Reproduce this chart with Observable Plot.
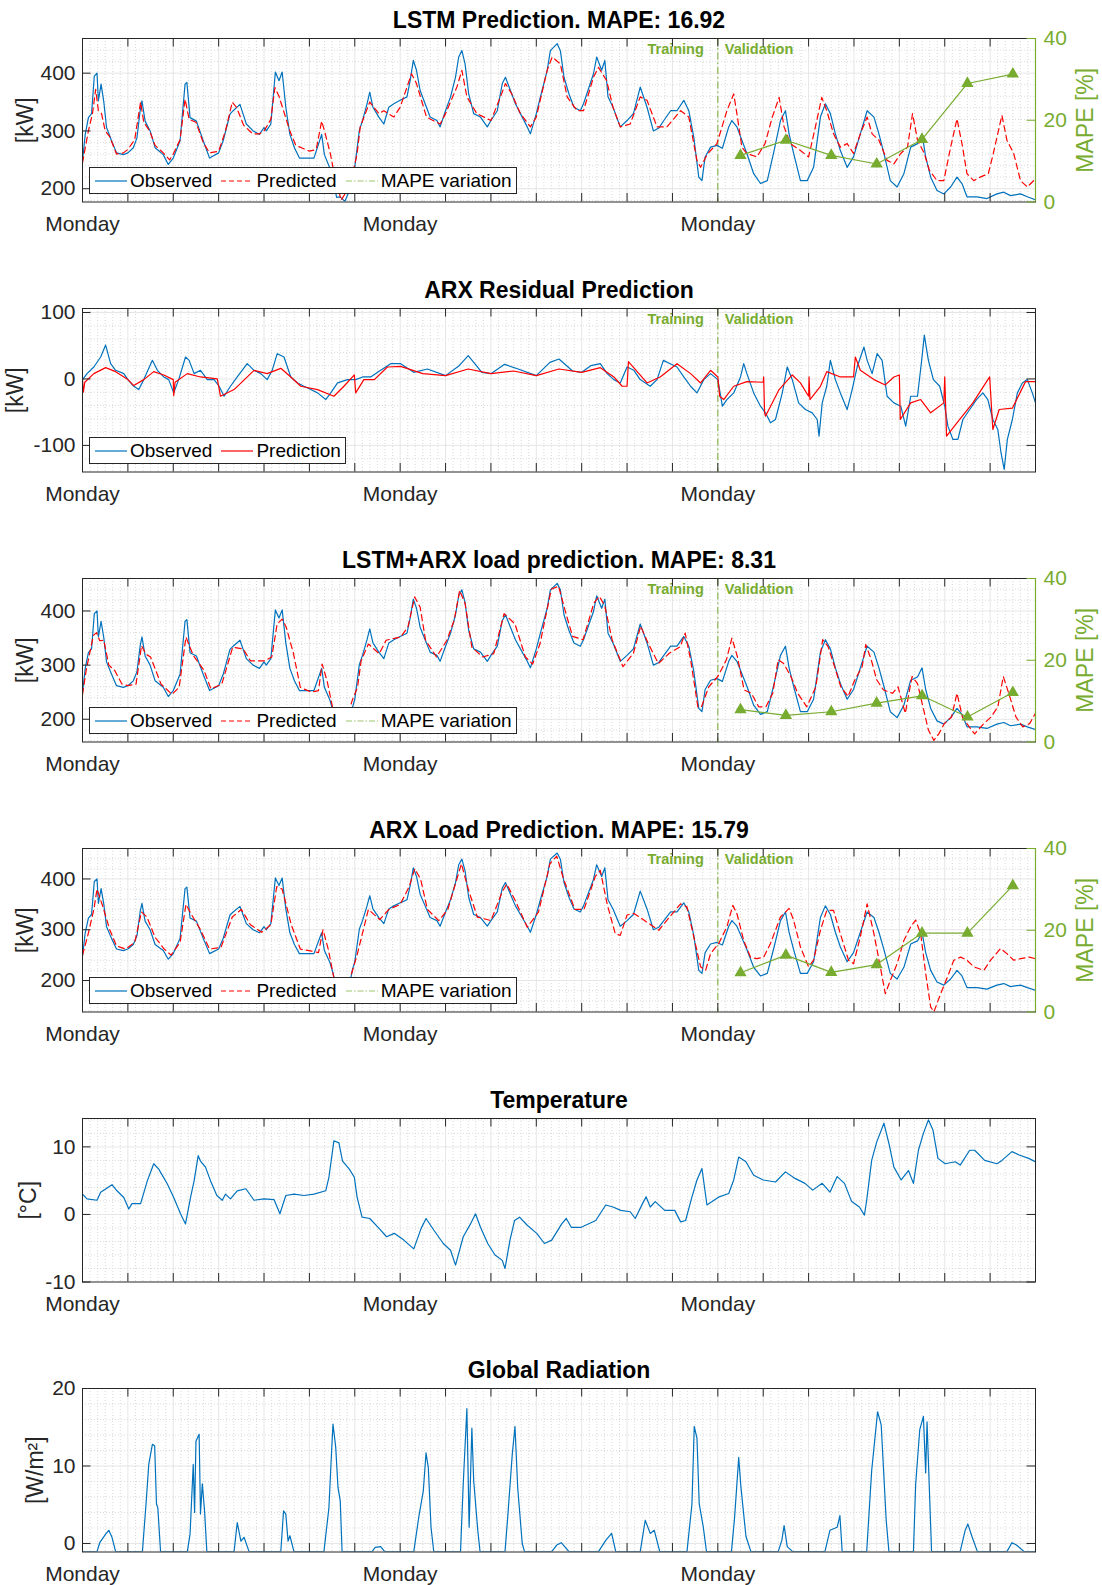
<!DOCTYPE html>
<html><head><meta charset="utf-8">
<script src="https://cdn.jsdelivr.net/npm/d3@7"></script>
<script src="https://cdn.jsdelivr.net/npm/@observablehq/plot@0.6"></script>
<style>
html,body{margin:0;padding:0;background:#fff}
body{width:1102px;height:1585px;overflow:hidden;font-family:"Liberation Sans",Arial,Helvetica,sans-serif}
#wrap{position:relative;width:1102px;height:1585px;overflow:hidden}
.panel{position:absolute;left:0}
.legend{position:absolute;background:#fff;border:1px solid #262626;display:flex;align-items:center;font-size:19px;color:#000;height:27px;box-sizing:border-box;padding:0 4px;white-space:nowrap}
.legend .item{display:flex;align-items:center}
.legend .item span{margin-left:2px}
.legend .item + .item{margin-left:8px}
</style></head>
<body><div id="wrap"></div>
<script>
// ---------------- DATA (days since first Monday, value) ----------------
const observedLoad = [
[0.00,248],[0.06,294],[0.13,323],[0.20,330],[0.26,395],[0.32,400],[0.35,352],[0.41,381],[0.47,350],[0.53,306],[0.64,283],[0.75,262],[0.90,259],[1.00,262],[1.12,271],[1.20,288],[1.27,335],[1.31,352],[1.38,317],[1.49,300],[1.60,271],[1.78,259],[1.89,242],[2.00,253],[2.15,283],[2.26,381],[2.30,384],[2.37,323],[2.51,317],[2.66,283],[2.80,253],[3.00,262],[3.10,283],[3.25,329],[3.32,335],[3.47,346],[3.54,329],[3.61,312],[3.76,300],[3.90,294],[4.00,306],[4.05,300],[4.15,312],[4.25,402],[4.33,387],[4.40,402],[4.48,341],[4.57,294],[4.67,271],[4.78,253],[4.90,253],[5.10,253],[5.27,294],[5.33,259],[5.45,236],[5.52,215],[5.60,185],[5.68,186],[5.78,178],[5.90,200],[5.95,222],
[6.00,237],[6.10,301],[6.17,318],[6.27,347],[6.33,367],[6.40,341],[6.53,324],[6.64,312],[6.75,341],[6.86,347],[7.00,353],[7.15,359],[7.22,387],[7.29,422],[7.36,405],[7.44,370],[7.55,347],[7.66,324],[7.81,318],[7.88,307],[8.00,335],[8.11,359],[8.22,393],[8.29,428],[8.36,439],[8.43,416],[8.51,364],[8.62,330],[8.77,324],[8.92,307],[9.00,318],[9.14,335],[9.25,382],[9.32,393],[9.43,370],[9.54,347],[9.65,330],[9.80,307],[9.87,295],[10.00,330],[10.09,359],[10.24,405],[10.31,439],[10.46,451],[10.53,439],[10.61,393],[10.72,364],[10.83,341],[10.97,335],[11.04,347],[11.26,399],[11.33,428],[11.44,405],[11.51,422],[11.58,359],[11.69,341],[11.85,307],[12.00,318],[12.14,330],[12.29,376],[12.44,341],[12.58,300],[12.70,305],[12.81,318],[12.96,335],[13.10,335],[13.25,353],[13.36,335],[13.47,289],[13.58,220],[13.65,214],[13.72,255],[13.84,272],[13.98,275],[14.10,270],[14.24,307],[14.31,318],[14.42,307],[14.53,284],[14.64,261],[14.79,226],[14.94,209],[15.09,214],[15.24,266],[15.38,318],[15.49,335],[15.57,295],[15.67,261],[15.82,214],[15.97,214],[16.11,237],[16.26,324],[16.37,347],[16.48,330],[16.59,295],[16.70,266],[16.85,237],[16.99,255],[17.14,295],[17.29,335],[17.44,324],[17.55,295],[17.66,261],[17.80,214],[17.95,203],[18.10,226],[18.25,272],[18.40,278],[18.50,295],[18.58,255],[18.69,220],[18.83,197],[18.98,191],[19.13,203],[19.27,220],[19.38,209],[19.49,186],[19.71,186],[19.93,183],[20.15,191],[20.30,194],[20.45,188],[20.67,191],[20.82,186],[21.00,181]
];
const lstmPredicted = [
[0.00,245],[0.13,300],[0.22,330],[0.29,372],[0.35,335],[0.42,330],[0.50,300],[0.60,290],[0.75,260],[0.90,262],[1.00,268],[1.15,285],[1.28,350],[1.35,315],[1.48,300],[1.60,275],[1.78,262],[1.92,250],[2.00,260],[2.15,285],[2.26,355],[2.35,320],[2.50,315],[2.66,280],[2.80,262],[3.00,265],[3.15,300],[3.30,350],[3.40,340],[3.55,310],[3.75,295],[3.90,295],[4.00,300],[4.15,320],[4.24,375],[4.33,360],[4.45,330],[4.57,300],[4.70,275],[4.85,270],[5.00,265],[5.15,268],[5.27,317],[5.35,295],[5.46,261],[5.55,225],[5.70,180],[5.85,200],[5.95,225],[6.05,260],[6.12,307],[6.33,350],[6.53,330],[6.64,335],[6.86,324],[7.00,341],[7.25,399],[7.36,382],[7.58,324],[7.88,312],[8.00,330],[8.25,376],[8.36,405],[8.47,359],[8.69,330],[9.00,318],[9.21,359],[9.32,382],[9.46,364],[9.65,330],[9.87,307],[10.00,324],[10.24,405],[10.35,428],[10.53,416],[10.68,359],[10.90,335],[11.04,335],[11.26,393],[11.37,410],[11.55,387],[11.69,341],[11.85,307],[12.07,312],[12.29,359],[12.44,353],[12.66,307],[12.88,307],[13.18,335],[13.36,324],[13.54,249],[13.62,237],[13.77,260],[13.98,278],[14.20,335],[14.35,364],[14.42,330],[14.53,272],[14.64,261],[14.86,255],[15.04,278],[15.20,324],[15.35,358],[15.46,307],[15.60,278],[15.82,266],[16.00,255],[16.15,307],[16.29,358],[16.40,335],[16.55,295],[16.70,272],[16.85,278],[16.99,261],[17.14,295],[17.29,324],[17.40,295],[17.55,284],[17.73,249],[17.88,243],[18.03,261],[18.18,272],[18.29,330],[18.40,284],[18.55,261],[18.66,232],[18.83,214],[18.98,214],[19.13,272],[19.27,321],[19.38,278],[19.49,226],[19.64,214],[19.78,220],[19.96,226],[20.07,261],[20.26,327],[20.37,284],[20.52,261],[20.67,214],[20.82,203],[20.96,214]
];
const hybridPredicted = [
[0.00,246],[0.08,290],[0.24,355],[0.31,360],[0.38,345],[0.47,346],[0.58,300],[0.71,290],[0.87,265],[1.00,262],[1.18,265],[1.30,336],[1.40,320],[1.50,315],[1.73,265],[1.97,246],[2.13,259],[2.28,352],[2.36,335],[2.44,318],[2.68,290],[2.83,256],[3.07,265],[3.31,333],[3.54,330],[3.70,308],[4.02,308],[4.17,315],[4.29,376],[4.40,385],[4.49,370],[4.65,321],[4.80,259],[5.04,250],[5.20,253],[5.28,302],[5.39,271],[5.51,222],[5.60,190],[5.75,180],[5.94,234],[6.06,259],[6.14,308],[6.30,339],[6.54,321],[6.69,346],[7.01,352],[7.17,370],[7.32,426],[7.44,407],[7.56,346],[7.80,315],[8.03,346],[8.19,383],[8.31,438],[8.43,414],[8.58,333],[8.82,315],[9.06,321],[9.29,395],[9.53,376],[9.76,315],[9.92,302],[10.08,339],[10.33,440],[10.49,446],[10.65,396],[10.80,353],[11.03,347],[11.27,415],[11.39,427],[11.51,409],[11.67,347],[11.91,297],[12.14,322],[12.30,372],[12.46,341],[12.69,303],[12.93,322],[13.17,334],[13.28,359],[13.40,310],[13.56,223],[13.64,223],[13.80,260],[14.00,279],[14.19,310],[14.31,350],[14.43,316],[14.58,254],[14.74,248],[14.90,223],[15.06,223],[15.21,248],[15.33,310],[15.45,303],[15.61,279],[15.76,248],[15.96,223],[16.16,260],[16.31,347],[16.43,334],[16.55,303],[16.71,260],[16.87,242],[17.02,273],[17.18,297],[17.26,338],[17.38,310],[17.50,273],[17.65,254],[17.85,248],[17.97,260],[18.13,211],[18.28,279],[18.40,266],[18.52,223],[18.64,180],[18.76,161],[18.87,173],[18.99,192],[19.15,204],[19.27,248],[19.39,204],[19.54,186],[19.66,173],[19.86,192],[20.02,204],[20.17,223],[20.29,279],[20.41,248],[20.57,204],[20.72,186],[20.87,192],[21.00,211]
];
const arxPredicted = [
[0.00,250],[0.12,290],[0.25,340],[0.32,380],[0.45,345],[0.60,300],[0.75,268],[0.95,262],[1.15,275],[1.30,335],[1.42,325],[1.60,285],[1.80,262],[1.95,250],[2.15,275],[2.28,350],[2.40,330],[2.60,300],[2.80,262],[3.05,265],[3.30,325],[3.50,340],[3.70,310],[3.95,295],[4.15,310],[4.28,385],[4.40,380],[4.60,310],[4.80,262],[5.05,258],[5.20,255],[5.30,300],[5.42,260],[5.55,200],[5.70,180],[5.90,205],[6.05,250],[6.30,340],[6.55,320],[6.75,340],[7.00,350],[7.20,385],[7.32,420],[7.45,400],[7.60,340],[7.85,318],[8.05,340],[8.25,400],[8.35,430],[8.50,380],[8.70,325],[9.00,318],[9.25,375],[9.35,390],[9.55,355],[9.80,305],[10.05,335],[10.30,430],[10.45,445],[10.60,400],[10.85,340],[11.05,340],[11.30,405],[11.41,417],[11.56,351],[11.74,292],[11.85,289],[12.00,329],[12.15,332],[12.37,319],[12.70,299],[12.88,319],[13.18,351],[13.32,345],[13.47,286],[13.62,227],[13.73,220],[13.84,253],[14.02,273],[14.20,306],[14.33,348],[14.42,332],[14.57,279],[14.72,246],[14.86,243],[15.01,246],[15.16,273],[15.38,325],[15.57,342],[15.67,319],[15.82,266],[16.00,227],[16.11,240],[16.26,299],[16.40,338],[16.55,338],[16.70,292],[16.88,240],[16.99,233],[17.14,286],[17.29,351],[17.44,292],[17.58,227],[17.69,174],[17.80,200],[17.95,233],[18.10,279],[18.25,306],[18.36,319],[18.47,292],[18.58,214],[18.69,148],[18.76,138],[18.91,174],[19.06,207],[19.20,240],[19.35,246],[19.49,240],[19.64,227],[19.86,220],[20.01,240],[20.23,263],[20.37,253],[20.52,240],[20.67,243],[20.86,246],[21.00,243]
];
const residualObserved = [
[0.00,-1],[0.10,8],[0.25,18],[0.40,33],[0.51,51],[0.62,23],[0.73,13],[0.91,8],[1.00,-1],[1.13,-11],[1.24,-16],[1.35,-1],[1.54,28],[1.65,13],[1.79,3],[1.90,-1],[2.01,-21],[2.12,-1],[2.27,33],[2.35,28],[2.46,8],[2.60,13],[2.75,-1],[2.90,-1],[3.01,-11],[3.12,-26],[3.26,-11],[3.41,3],[3.63,23],[3.78,13],[3.93,8],[4.07,-1],[4.18,13],[4.29,38],[4.44,33],[4.59,3],[4.74,-6],[4.88,-11],[5.03,-16],[5.18,-21],[5.36,-31],[5.47,-21],[5.62,-6],[5.84,-1],[6.02,-1],[6.17,3],[6.35,3],[6.57,13],[6.79,23],[7.01,23],[7.30,10],[7.60,15],[8.00,5],[8.30,20],[8.50,35],[8.80,10],[9.00,8],[9.30,22],[9.60,15],[10.00,5],[10.30,25],[10.50,30],[10.80,12],[11.00,10],[11.20,20],[11.41,23],[11.56,8],[11.71,-1],[11.85,-6],[12.00,18],[12.15,13],[12.29,-1],[12.51,-11],[12.66,-1],[12.80,28],[12.95,23],[13.10,18],[13.25,3],[13.40,-11],[13.54,-21],[13.69,-1],[13.84,8],[14.00,-1],[14.10,-41],[14.20,-31],[14.35,-21],[14.50,3],[14.57,23],[14.64,8],[14.79,-21],[14.94,-41],[15.05,-51],[15.16,-66],[15.27,-61],[15.42,-21],[15.53,18],[15.64,-1],[15.78,-36],[15.93,-46],[16.08,-51],[16.19,-61],[16.23,-86],[16.30,-36],[16.40,-11],[16.48,28],[16.59,-1],[16.70,-21],[16.85,-46],[16.96,-16],[17.07,18],[17.22,48],[17.29,28],[17.40,8],[17.51,38],[17.62,28],[17.73,-26],[17.88,-36],[18.03,-41],[18.14,-71],[18.25,-26],[18.40,-26],[18.50,33],[18.55,66],[18.64,28],[18.75,-1],[18.89,-11],[19.00,-41],[19.07,-71],[19.18,-91],[19.29,-91],[19.40,-61],[19.55,-46],[19.70,-31],[19.84,-21],[19.95,-31],[20.06,-61],[20.17,-76],[20.24,-111],[20.31,-136],[20.38,-91],[20.49,-61],[20.60,-21],[20.71,-6],[20.82,-1],[20.93,-21],[21.00,-36]
];
const residualPredicted = [
[0.00,-1],[0.02,-20],[0.05,-5],[0.25,8],[0.51,17],[0.73,11],[1.00,-1],[1.13,-10],[1.35,-1],[1.57,11],[1.79,6],[2.00,-1],[2.01,-25],[2.04,-5],[2.31,8],[2.60,3],[2.97,0],[3.04,-26],[3.34,-16],[3.78,13],[4.07,8],[4.37,16],[4.59,3],[4.81,-11],[5.18,-16],[5.54,-26],[5.76,-11],[5.99,6],[6.02,-21],[6.20,-1],[6.43,-1],[6.72,18],[7.01,19],[7.50,8],[8.00,5],[8.50,15],[9.00,8],[9.50,12],[10.00,5],[10.50,15],[11.00,10],[11.41,17],[11.71,3],[11.89,-11],[12.00,-11],[12.03,26],[12.44,-6],[12.73,3],[13.10,23],[13.40,8],[13.62,-6],[13.84,13],[14.00,3],[14.04,-26],[14.13,-31],[14.35,-11],[14.64,-4],[15.00,-5],[15.01,3],[15.03,-51],[15.05,-56],[15.35,-16],[15.64,6],[15.82,-6],[16.00,-26],[16.01,3],[16.03,-31],[16.26,-11],[16.40,11],[16.70,3],[16.99,3],[17.03,33],[17.14,13],[17.44,-1],[17.69,-9],[17.88,3],[18.00,6],[18.02,-61],[18.25,-36],[18.47,-31],[18.69,-51],[18.98,-36],[19.00,3],[19.04,-86],[19.33,-61],[19.62,-36],[19.95,-1],[19.99,3],[20.06,-76],[20.20,-46],[20.49,-44],[20.78,-4],[21.00,-4]
];
const temperature = [
[0.00,3.0],[0.10,2.3],[0.32,2.1],[0.40,3.3],[0.65,4.4],[0.76,3.5],[0.91,2.5],[1.02,0.8],[1.09,1.6],[1.28,1.6],[1.43,5.0],[1.57,7.5],[1.68,6.7],[1.87,4.5],[2.01,2.5],[2.16,0.1],[2.27,-1.4],[2.38,2.5],[2.46,5.0],[2.55,8.7],[2.60,7.9],[2.71,7.0],[2.82,5.0],[2.96,2.8],[3.08,2.1],[3.15,3.0],[3.26,2.3],[3.41,3.5],[3.60,3.8],[3.78,2.1],[4.00,2.3],[4.22,2.2],[4.35,0.1],[4.48,2.8],[4.66,3.0],[4.88,2.8],[5.10,3.0],[5.36,3.5],[5.43,5.5],[5.54,10.9],[5.65,10.6],[5.73,7.9],[5.88,6.7],[5.99,5.5],[6.05,2.6],[6.16,-0.4],[6.33,-0.6],[6.54,-2.1],[6.70,-3.3],[6.87,-2.8],[7.08,-3.8],[7.30,-5.1],[7.46,-2.1],[7.57,-0.6],[7.74,-2.3],[7.95,-4.3],[8.11,-5.3],[8.22,-7.5],[8.39,-3.3],[8.55,-1.4],[8.66,0.1],[8.77,-1.9],[8.93,-4.3],[9.09,-6.0],[9.25,-6.8],[9.31,-8.0],[9.42,-3.8],[9.52,-0.9],[9.63,-0.4],[9.80,-1.6],[10.01,-2.8],[10.18,-4.3],[10.34,-3.8],[10.56,-1.4],[10.66,-0.6],[10.77,-1.9],[10.99,-1.9],[11.31,-0.9],[11.53,1.4],[11.69,1.1],[11.86,0.6],[12.07,0.4],[12.18,-0.6],[12.34,1.6],[12.42,2.6],[12.51,1.1],[12.62,1.9],[12.83,0.6],[13.05,0.6],[13.18,-1.1],[13.29,-0.9],[13.43,2.6],[13.54,5.1],[13.65,6.8],[13.76,1.4],[14.03,2.6],[14.24,3.1],[14.35,5.1],[14.46,8.5],[14.62,7.8],[14.79,5.8],[15.00,5.1],[15.27,4.8],[15.49,6.3],[15.71,5.3],[15.92,4.6],[16.09,3.6],[16.30,4.6],[16.47,3.3],[16.63,5.6],[16.79,4.6],[16.95,1.9],[17.12,1.1],[17.23,-0.1],[17.28,2.1],[17.39,8.0],[17.50,10.7],[17.66,13.5],[17.77,10.5],[17.88,7.0],[18.04,5.1],[18.20,6.5],[18.31,4.6],[18.42,9.5],[18.53,12.0],[18.64,14.0],[18.74,12.5],[18.85,8.3],[19.01,7.5],[19.23,7.8],[19.34,7.3],[19.55,9.5],[19.66,9.5],[19.88,8.0],[20.15,7.5],[20.26,8.0],[20.48,9.3],[20.64,8.8],[20.85,8.3],[21.00,7.8]
];
const radiation = [
[0.00,-1.05],[0.32,-1.05],[0.38,0.1],[0.51,1.2],[0.58,1.7],[0.65,0.8],[0.73,-1.05],
[1.32,-1.05],[1.40,5.1],[1.46,10.2],[1.54,12.8],[1.59,12.6],[1.63,5.1],[1.66,4.6],[1.72,-1.05],
[2.31,-1.05],[2.37,1.2],[2.44,10.2],[2.47,4.0],[2.50,13.2],[2.57,14.1],[2.60,3.8],[2.64,7.7],[2.69,4.2],[2.74,-1.05],
[3.34,-1.05],[3.41,2.7],[3.49,0.3],[3.56,0.8],[3.67,-1.05],
[4.37,-1.05],[4.43,4.2],[4.48,3.8],[4.53,0.3],[4.57,1.0],[4.66,-1.05],
[5.32,-1.05],[5.43,4.6],[5.49,12.0],[5.52,15.4],[5.58,12.4],[5.63,7.2],[5.68,5.5],[5.72,-1.05],
[6.38,-1.05],[6.45,-0.5],[6.57,-0.4],[6.66,-1.05],
[7.30,-1.05],[7.41,3.4],[7.51,6.8],[7.57,11.7],[7.62,9.8],[7.68,2.1],[7.74,-1.05],
[8.33,-1.05],[8.39,7.7],[8.47,17.4],[8.52,2.1],[8.58,14.9],[8.62,8.1],[8.71,1.7],[8.76,-1.05],
[9.31,-1.05],[9.37,3.4],[9.47,11.5],[9.53,15.1],[9.59,7.2],[9.69,0.0],[9.74,-1.05],
[10.34,-1.05],[10.45,-0.2],[10.55,0.1],[10.72,-1.05],
[11.37,-1.05],[11.53,0.4],[11.66,1.3],[11.75,-1.05],
[12.29,-1.05],[12.40,3.0],[12.51,1.3],[12.60,1.7],[12.72,-1.05],
[13.32,-1.05],[13.43,5.1],[13.48,15.1],[13.54,13.6],[13.59,5.1],[13.68,2.1],[13.75,-1.05],
[14.30,-1.05],[14.37,3.4],[14.46,11.1],[14.51,7.2],[14.62,0.9],[14.73,-1.05],
[15.33,-1.05],[15.41,0.4],[15.46,2.3],[15.53,-0.4],[15.65,-1.05],
[16.36,-1.05],[16.47,1.7],[16.63,2.1],[16.69,3.6],[16.74,-1.05],
[17.28,-1.05],[17.39,9.4],[17.52,17.0],[17.60,15.3],[17.71,3.0],[17.77,-1.05],
[18.31,-1.05],[18.36,7.7],[18.45,14.7],[18.53,16.4],[18.58,9.1],[18.61,15.7],[18.66,7.2],[18.71,-1.05],
[19.34,-1.05],[19.45,1.7],[19.51,2.5],[19.60,0.9],[19.72,-1.05],
[20.37,-1.05],[20.48,0.1],[20.58,-0.2],[20.75,-1.05],[21.00,-1.05]
];
const mapeDays = [14.5, 15.5, 16.5, 17.5, 18.5, 19.5, 20.5];
const lstmMape = [11.4, 15.1, 11.4, 9.3, 15.3, 29.0, 31.3];
const hybridMape = [7.9, 6.5, 7.4, 9.5, 11.3, 6.1, 12.1];
const arxMape = [9.6, 13.9, 9.7, 11.6, 19.3, 19.3, 30.9];
const mapeTicks = [0, 20, 40];
const splitDay = 14;
const mondayDays = [0, 7, 14];
const mondayLabel = "Monday";

// ---------------- LAYOUT / STYLE ----------------
const W = 1102, PITCH = 270, FT = 38, FH = 163.5, FL = 82, FR = 1035, FW = FR - FL, TL = 8.5;
const BLUE = "#0072BD", RED = "#FF0000", GREEN = "#77AC30", AX = "#262626";
const FONT = '"Liberation Sans", Arial, Helvetica, sans-serif';
const dayTicks = d3.range(0, 22);
const minorDays = d3.range(0, 21 * 6 + 1).map(k => k / 6).filter(d => Math.abs(d - Math.round(d)) > 1e-6);

function panel(cfg) {
  const {index, title, domain, yTicks, yMinorStep, yLabel, yLabelDx, lines, mape, split} = cfg;
  const [lo, hi] = domain;
  const toLeft = m => lo + (m / 40) * (hi - lo);
  const fromLeft = v => ((v - lo) / (hi - lo)) * 40;
  const yMinor = d3.range(Math.ceil(lo / yMinorStep - 1e-9), Math.floor(hi / yMinorStep + 1e-9) + 1)
    .map(k => +(k * yMinorStep).toFixed(6)).filter(v => !yTicks.includes(v) && v > lo && v < hi);
  const majorY = yTicks.filter(v => v > lo && v < hi);
  const marks = [
    Plot.ruleX(minorDays, {x: d => d, stroke: "#d0d0d0", strokeWidth: 0.8, strokeDasharray: "1,2"}),
    Plot.ruleY(yMinor, {y: d => d, stroke: "#d0d0d0", strokeWidth: 0.8, strokeDasharray: "1,2"}),
    Plot.ruleX(dayTicks.slice(1, -1), {x: d => d, stroke: "#e0e0e0", strokeWidth: 0.8}),
    Plot.ruleY(majorY, {y: d => d, stroke: "#e0e0e0", strokeWidth: 0.8})
  ];
  if (split) {
    marks.push(Plot.ruleX([splitDay], {x: d => d, stroke: GREEN, strokeWidth: 1, strokeDasharray: "7,3,1.5,3"}));
  }
  for (const s of lines) {
    marks.push(Plot.line(s.data, {x: d => d[0], y: d => d[1], stroke: s.color, strokeWidth: s.width || 1.2, strokeDasharray: s.dash, clip: true}));
  }
  if (mape) {
    marks.push(Plot.line(mape, {x: (d, i) => mapeDays[i], y: d => toLeft(d), stroke: GREEN, strokeWidth: 1.2}));
    marks.push(Plot.dot(mape, {x: (d, i) => mapeDays[i], y: d => toLeft(d), symbol: "triangle", fill: GREEN, stroke: GREEN, r: 3.6}));
  }
  if (split) {
    marks.push(Plot.text([splitDay], {x: d => d, text: () => "Training", frameAnchor: "top", lineAnchor: "middle", dy: 10.5, dx: -14, textAnchor: "end", fill: GREEN, fontWeight: "bold", fontSize: 14.5}));
    marks.push(Plot.text([splitDay], {x: d => d, text: () => "Validation", frameAnchor: "top", lineAnchor: "middle", dy: 10.5, dx: 7, textAnchor: "start", fill: GREEN, fontWeight: "bold", fontSize: 14.5}));
  }
  marks.push(Plot.frame({stroke: AX, strokeWidth: 1}));
  // inward ticks
  marks.push(Plot.tickX(dayTicks, {x: d => d, stroke: AX, insetTop: FH - TL}));
  marks.push(Plot.tickX(dayTicks, {x: d => d, stroke: AX, insetBottom: FH - TL}));
  marks.push(Plot.tickY(yTicks, {y: d => d, stroke: AX, insetRight: FW - TL}));
  if (mape) {
    marks.push(Plot.ruleX([21], {x: d => d, stroke: GREEN, strokeWidth: 1.2}));
    marks.push(Plot.tickY(mapeTicks.map(toLeft), {y: d => d, stroke: GREEN, insetLeft: FW - TL}));
    marks.push(Plot.axisY({anchor: "right", ticks: mapeTicks.map(toLeft), tickFormat: v => String(Math.round(fromLeft(v))), tickSize: 0, tickPadding: 8, fill: GREEN, fontSize: 21, label: null}));
    marks.push(Plot.text(["MAPE [%]"], {text: d => d, frameAnchor: "right", dx: 50, rotate: -90, textAnchor: "middle", lineAnchor: "middle", fill: GREEN, fontSize: 23}));
  } else {
    marks.push(Plot.tickY(yTicks, {y: d => d, stroke: AX, insetLeft: FW - TL}));
  }
  marks.push(Plot.axisX({ticks: mondayDays, tickFormat: () => mondayLabel, tickSize: 0, tickPadding: 14, fill: AX, fontSize: 21, label: null}));
  marks.push(Plot.axisY({anchor: "left", ticks: yTicks, tickFormat: d => String(d), tickSize: 0, tickPadding: 7, fill: AX, fontSize: 21, label: null}));
  marks.push(Plot.text([yLabel], {text: d => d, frameAnchor: "left", dx: yLabelDx, rotate: -90, textAnchor: "middle", lineAnchor: "middle", fill: AX, fontSize: 23}));
  marks.push(Plot.text([title], {text: d => d, frameAnchor: "top", lineAnchor: "middle", dy: -18, fill: "#000", fontWeight: "bold", fontSize: 23}));

  const svg = Plot.plot({
    width: W, height: PITCH,
    marginTop: FT, marginBottom: PITCH - FT - FH, marginLeft: FL, marginRight: W - FR,
    x: {domain: [0, 21]},
    y: {domain: [lo, hi]},
    style: {fontFamily: FONT, fontSize: "21px", color: AX, background: "transparent", overflow: "visible"},
    marks
  });
  svg.classList.add("panel");
  svg.style.top = (index * PITCH) + "px";
  return svg;
}

function legend(index, items) {
  const div = document.createElement("div");
  div.className = "legend";
  div.style.left = "89px";
  div.style.top = (index * PITCH + FT + FH - 7.5 - 27) + "px";
  for (const it of items) {
    const item = document.createElement("div");
    item.className = "item";
    item.innerHTML = `<svg width="34" height="10"><line x1="1" x2="33" y1="5" y2="5" stroke="${it.color}" stroke-width="1.2" ${it.dash ? `stroke-dasharray="${it.dash}"` : ""} ${it.opacity ? `stroke-opacity="${it.opacity}"` : ""}/></svg><span>${it.label}</span>`;
    div.appendChild(item);
  }
  return div;
}

const wrap = document.getElementById("wrap");
const loadLegend = [
  {label: "Observed", color: BLUE},
  {label: "Predicted", color: RED, dash: "5,3"},
  {label: "MAPE variation", color: GREEN, dash: "6,2,1.5,2", opacity: 0.7}
];

const panels = [
  {index: 0, title: "LSTM Prediction. MAPE: 16.92", domain: [177, 460], yTicks: [200, 300, 400], yMinorStep: 20, yLabel: "[kW]", yLabelDx: -57,
   lines: [{data: observedLoad, color: BLUE}, {data: lstmPredicted, color: RED, dash: "6,4"}], mape: lstmMape, split: true},
  {index: 1, title: "ARX Residual Prediction", domain: [-140, 106], yTicks: [-100, 0, 100], yMinorStep: 20, yLabel: "[kW]", yLabelDx: -67,
   lines: [{data: residualObserved, color: BLUE}, {data: residualPredicted, color: RED}], mape: null, split: true},
  {index: 2, title: "LSTM+ARX load prediction. MAPE: 8.31", domain: [158, 460], yTicks: [200, 300, 400], yMinorStep: 20, yLabel: "[kW]", yLabelDx: -57,
   lines: [{data: observedLoad, color: BLUE}, {data: hybridPredicted, color: RED, dash: "6,4"}], mape: hybridMape, split: true},
  {index: 3, title: "ARX Load Prediction. MAPE: 15.79", domain: [138, 460], yTicks: [200, 300, 400], yMinorStep: 20, yLabel: "[kW]", yLabelDx: -57,
   lines: [{data: observedLoad, color: BLUE}, {data: arxPredicted, color: RED, dash: "6,4"}], mape: arxMape, split: true},
  {index: 4, title: "Temperature", domain: [-10, 14.2], yTicks: [-10, 0, 10], yMinorStep: 2, yLabel: "[°C]", yLabelDx: -54,
   lines: [{data: temperature, color: BLUE}], mape: null, split: false},
  {index: 5, title: "Global Radiation", domain: [-1.1, 20], yTicks: [0, 10, 20], yMinorStep: 2, yLabel: "[W/m²]", yLabelDx: -47,
   lines: [{data: radiation, color: BLUE}], mape: null, split: false}
];
for (const p of panels) wrap.appendChild(panel(p));
wrap.appendChild(legend(0, loadLegend));
wrap.appendChild(legend(1, [{label: "Observed", color: BLUE}, {label: "Prediction", color: RED}]));
wrap.appendChild(legend(2, loadLegend));
wrap.appendChild(legend(3, loadLegend));
</script>
</body></html>
